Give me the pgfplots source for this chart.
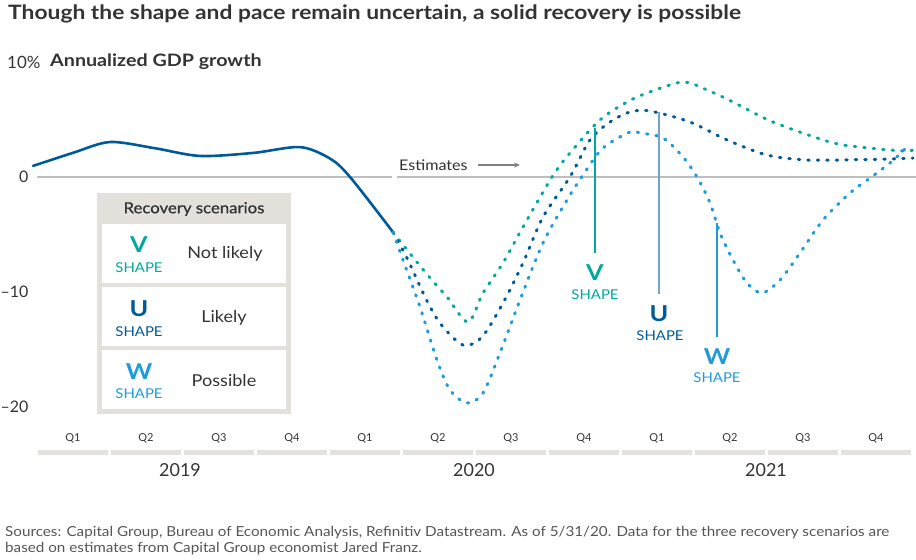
\documentclass[border=0pt]{standalone}
\usepackage{fontspec}
\setmainfont{Lato}
\newfontfamily\bodyfont[FakeStretch=1.1]{Lato}
\newfontfamily\headfont[FakeStretch=1.15]{Lato}
\newfontfamily\medfont[FakeStretch=1.1, FakeBold=0.8]{Lato}
\usepackage{pgfplots}
\pgfplotsset{compat=1.18}
\usetikzlibrary{arrows.meta}
\definecolor{vcol}{RGB}{0,168,158}
\definecolor{ucol}{RGB}{0,90,152}
\definecolor{wcol}{RGB}{30,156,218}
\definecolor{txt}{RGB}{51,51,51}
\definecolor{zgray}{RGB}{190,190,190}
\definecolor{legbg}{RGB}{228,225,221}
\definecolor{qbar}{RGB}{228,226,222}
\definecolor{srcgray}{RGB}{85,85,85}
\begin{document}
\begin{tikzpicture}
\begin{axis}[
  at={(0,132bp)}, anchor=south west,
  scale only axis, width=916bp, height=428bp,
  xmin=-1, xmax=11.548, ymin=-21.826, ymax=15.391,
  clip=false,
  axis line style={draw=none},
  major tick length=0pt,
  /pgf/number format/assume math mode=true,
  ytick={-20,-10,0},
  yticklabels={\textendash20,\textendash10,0},
  yticklabel style={anchor=east, inner sep=0pt, xshift=28.5bp, font=\fontsize{16}{18}\selectfont, text=txt},
  xtick={0,1,2,3,4,5,6,7,8,9,10,11},
  xticklabels={Q1,Q2,Q3,Q4,Q1,Q2,Q3,Q4,Q1,Q2,Q3,Q4},
  xticklabel style={anchor=center, inner sep=0pt, yshift=-10bp, font=\fontsize{11}{13}\selectfont, text=txt},
]
% zero line
\draw[zgray, line width=1.6bp] (axis cs:-0.493,0) -- (axis cs:4.370,0);
\draw[zgray, line width=1.6bp] (axis cs:4.438,0) -- (axis cs:11.548,0);
% actual GDP
\addplot[ucol, line width=2.6bp, smooth, line cap=round] coordinates {
(-0.548,0.96) (0,2.1) (0.507,3.04) (1.123,2.5) (1.740,1.83) (2.466,2.09) (3.110,2.6) (3.521,1.6) (3.795,0) (4.384,-4.8)
};
% V shape
\addplot[vcol, line width=3bp, smooth, line cap=round, dash pattern=on 1.5bp off 8bp] coordinates {
(4.384,-4.8) (4.521,-5.91) (4.822,-8.26) (5.123,-10.43) (5.411,-12.61) (5.616,-10.09) (5.890,-7.48) (6.164,-4.35) (6.562,0) (6.808,2.09) (7.219,4.96) (7.589,6.52) (7.904,7.4) (8.356,8.26) (8.685,7.57) (9.041,6.52) (9.589,4.78) (10.370,3.04) (10.781,2.6) (11.37,2.26) (11.507,2.35)
};
% U shape
\addplot[ucol, line width=3bp, smooth, line cap=round, dash pattern=on 1.5bp off 8bp] coordinates {
(4.384,-4.8) (4.589,-7.22) (4.822,-10.43) (5.027,-12.70) (5.342,-14.61) (5.603,-13.91) (5.890,-10.96) (6.164,-7.48) (6.438,-3.48) (6.808,0) (7.082,3.22) (7.356,4.78) (7.630,5.65) (7.904,5.74) (8.452,4.78) (8.96,3.22) (9.507,1.91) (10.05,1.48) (10.7,1.5) (11.23,1.57) (11.507,1.65)
};
% W shape
\addplot[wcol, line width=3bp, smooth, line cap=round, dash pattern=on 1.5bp off 8bp] coordinates {
(4.384,-4.8) (4.521,-7.22) (4.753,-11.30) (4.986,-15.91) (5.164,-18.52) (5.397,-19.65) (5.616,-18.78) (5.849,-15.30) (6.123,-10.70) (6.438,-5.74) (6.767,-2.0) (6.986,0.17) (7.260,2.52) (7.630,3.91) (7.767,3.83) (8.082,3.39) (8.356,1.74) (8.548,0) (8.726,-2.26) (8.863,-4.87) (9.041,-7.22) (9.233,-9.22) (9.438,-10.09) (9.685,-8.96) (9.959,-6.61) (10.274,-3.74) (10.644,-1.39) (10.918,-0.09) (11.192,1.22) (11.41,2.52)
};
\end{axis}
% decorations in pixel coordinates
\begin{scope}[shift={(0,560bp)}, x=1bp, y=-1bp]
% title
\node[anchor=west, inner sep=0pt, text=txt, font=\headfont\fontsize{19.9}{23}\bfseries\selectfont] at (8,14) {Though the shape and pace remain uncertain, a solid recovery is possible};
\node[anchor=west, inner sep=0pt, text=txt, font=\fontsize{17}{20}\selectfont] at (7,62) {10\%};
\node[anchor=west, inner sep=0pt, text=txt, font=\headfont\fontsize{17.2}{20}\bfseries\selectfont] at (50,62) {Annualized GDP growth};
% estimates
\node[anchor=west, inner sep=0pt, text=txt, font=\bodyfont\fontsize{14.7}{18}\selectfont] at (399,165) {Estimates};
\draw[-{Stealth[length=6bp,width=5bp]}, gray, line width=1.2bp] (478,165) -- (520,165);
% pointers
\draw[vcol, line width=1.2bp] (595,128) -- (595,253);
\draw[ucol!55, line width=2bp] (659,112) -- (659,294);
\draw[wcol, line width=1.2bp] (717,223) -- (717,337);
\node[text=vcol, font=\headfont\fontsize{22}{24}\bfseries\selectfont, inner sep=0pt] at (595,273) {V};
\node[text=vcol, font=\bodyfont\fontsize{13.6}{16}\selectfont, inner sep=0pt] at (595,295) {SHAPE};
\node[text=ucol, font=\headfont\fontsize{22}{24}\bfseries\selectfont, inner sep=0pt] at (659,314) {U};
\node[text=ucol, font=\bodyfont\fontsize{13.6}{16}\selectfont, inner sep=0pt] at (660,336) {SHAPE};
\node[text=wcol, font=\headfont\fontsize{22}{24}\bfseries\selectfont, inner sep=0pt] at (717,357) {W};
\node[text=wcol, font=\bodyfont\fontsize{13.6}{16}\selectfont, inner sep=0pt] at (717,378) {SHAPE};
% legend
\fill[legbg] (97,193) rectangle (291,414);
\fill[white] (102,224) rectangle (286,283);
\fill[white] (102,287) rectangle (286,346);
\fill[white] (102,350) rectangle (286,409);
\node[text=txt, font=\medfont\fontsize{15.3}{17}\selectfont, inner sep=0pt] at (194,209) {Recovery scenarios};
\node[text=vcol, font=\headfont\fontsize{22}{24}\bfseries\selectfont, inner sep=0pt] at (139,245) {V};
\node[text=vcol, font=\bodyfont\fontsize{13.6}{16}\selectfont, inner sep=0pt] at (139,268) {SHAPE};
\node[text=txt, font=\bodyfont\fontsize{16.5}{19}\selectfont, inner sep=0pt] at (225,254) {Not likely};
\node[text=ucol, font=\headfont\fontsize{22}{24}\bfseries\selectfont, inner sep=0pt] at (139,309) {U};
\node[text=ucol, font=\bodyfont\fontsize{13.6}{16}\selectfont, inner sep=0pt] at (139,332) {SHAPE};
\node[text=txt, font=\bodyfont\fontsize{16.5}{19}\selectfont, inner sep=0pt] at (224,318) {Likely};
\node[text=wcol, font=\headfont\fontsize{22}{24}\bfseries\selectfont, inner sep=0pt] at (139,372) {W};
\node[text=wcol, font=\bodyfont\fontsize{13.6}{16}\selectfont, inner sep=0pt] at (139,394) {SHAPE};
\node[text=txt, font=\bodyfont\fontsize{16.5}{19}\selectfont, inner sep=0pt] at (224,381) {Possible};
% quarter bars
\foreach \i in {0,...,11} {
  \fill[qbar] ({36.5+73*\i+1.5},450) rectangle ({36.5+73*(\i+1)-1.5},455);
}
\node[text=txt, font=\fontsize{18}{20}\selectfont, inner sep=0pt] at (180,470) {2019};
\node[text=txt, font=\fontsize{18}{20}\selectfont, inner sep=0pt] at (474,470) {2020};
\node[text=txt, font=\fontsize{18}{20}\selectfont, inner sep=0pt] at (766,470) {2021};
% source
\node[anchor=base west, text=srcgray, font=\bodyfont\fontsize{13.9}{16}\selectfont, inner sep=0pt] at (5,537) {Sources: Capital Group, Bureau of Economic Analysis, Refinitiv Datastream. As of 5/31/20. Data for the three recovery scenarios are};
\node[anchor=base west, text=srcgray, font=\bodyfont\fontsize{13.9}{16}\selectfont, inner sep=0pt] at (5,553) {based on estimates from Capital Group economist Jared Franz.};
\end{scope}
\pgfresetboundingbox
\path[use as bounding box] (0,0) rectangle (916bp,560bp);
\end{tikzpicture}
\end{document}
